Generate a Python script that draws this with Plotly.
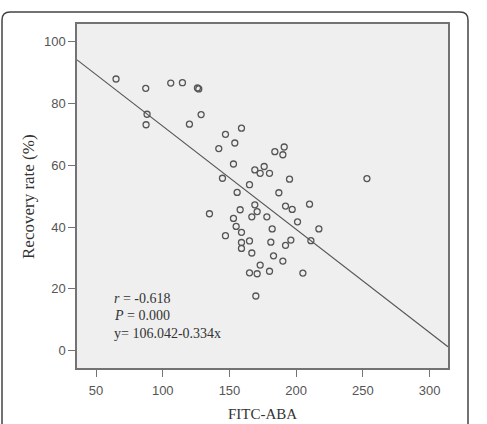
import plotly.graph_objects as go

# FITC-ABA values and recovery rates
fitc_aba = [65, 87.25, 88.25, 87.5, 106, 114.75, 126, 127, 120, 128.75,
            159, 147, 154, 142, 153, 144.75, 155.75, 135, 147, 153,
            155, 159, 158, 159, 159, 165, 166.75, 165, 170.75, 169.75,
            173, 180, 183, 181, 182, 178, 166.75, 170.75, 169, 165,
            169, 173, 176, 180, 184, 191, 190, 195, 187, 192,
            197, 201, 196, 192, 190, 205, 210, 211, 217, 253]
recovery = [87.9, 84.9, 76.5, 73.1, 86.6, 86.7, 85.0, 84.7, 73.3, 76.4,
            72.0, 70.0, 67.2, 65.4, 60.4, 55.8, 51.2, 44.3, 37.2, 42.8,
            40.2, 38.3, 45.6, 35.0, 33.1, 35.5, 31.6, 25.2, 24.9, 17.7,
            27.7, 25.7, 30.7, 35.1, 39.4, 43.3, 43.3, 45.0, 47.2, 53.7,
            58.5, 57.4, 59.6, 57.4, 64.4, 65.9, 63.4, 55.5, 51.1, 46.8,
            45.7, 41.7, 35.8, 34.1, 29.0, 25.1, 47.4, 35.6, 39.4, 55.7]

intercept = 106.042
slope = -0.334
x_range = [35.75, 313.75]
y_range = [-5.6, 105.7]
x_ticks = [50, 100, 150, 200, 250, 300]
y_ticks = [0, 20, 40, 60, 80, 100]
x_title = "FITC-ABA"
y_title = "Recovery rate (%)"
stat_lines = ["<i>r</i> = -0.618", "<i>P</i> = 0.000", "y= 106.042-0.334x"]
stat_y = [17.0, 11.3, 5.6]

fit_x = x_range
fit_y = [intercept + slope * v for v in fit_x]

fig = go.Figure()
fig.add_trace(go.Scatter(x=fit_x, y=fit_y, mode="lines",
                         line=dict(color="#555555", width=1.2),
                         hoverinfo="skip", showlegend=False))
fig.add_trace(go.Scatter(x=fitc_aba, y=recovery, mode="markers",
                         marker=dict(symbol="circle-open", size=6,
                                     color="#555555", line=dict(width=1.3)),
                         showlegend=False))

for txt, yy in zip(stat_lines, stat_y):
    fig.add_annotation(x=62, y=yy, xref="x", yref="y", text=txt,
                       showarrow=False, xanchor="left", yanchor="middle",
                       font=dict(family="Liberation Serif", size=14, color="#333333"))

L, R, T, B = 77, 39, 24, 56
W, H = 487, 424
pw, ph = W - L - R, H - T - B

def px_x(p):
    return (p - L) / pw

def px_y(p):
    return (H - B - p) / ph

# axis titles as annotations for exact placement
fig.add_annotation(x=0.5, y=px_y(414), xref="paper", yref="paper", text=x_title,
                   showarrow=False, xanchor="center", yanchor="middle",
                   font=dict(family="Liberation Serif", size=15, color="#333333"))
fig.add_annotation(x=px_x(28), y=px_y(197), xref="paper", yref="paper", text=y_title,
                   showarrow=False, xanchor="center", yanchor="middle", textangle=-90,
                   font=dict(family="Liberation Serif", size=17, color="#333333"))

bl, br, bt, bb = px_x(2), px_x(468), px_y(12), px_y(440)
rx, ry = 8 / pw, 8 / ph
path = (f"M {bl},{bb} L {bl},{bt - ry} Q {bl},{bt} {bl + rx},{bt} "
        f"L {br - rx},{bt} Q {br},{bt} {br},{bt - ry} L {br},{bb}")
fig.add_shape(type="path", path=path, xref="paper", yref="paper",
              line=dict(color="#444444", width=1.5), layer="below")

axis_common = dict(showgrid=False, zeroline=False, showline=True, mirror=True,
                   linecolor="#737373", linewidth=1.5, ticks="outside",
                   ticklen=7, tickcolor="#737373", tickwidth=1.2, automargin=False,
                   tickfont=dict(family="Liberation Sans", size=13, color="#555555"))

fig.update_xaxes(range=x_range, tickvals=x_ticks, ticklabelstandoff=3, **axis_common)
fig.update_yaxes(range=y_range, tickvals=y_ticks, **axis_common)

fig.update_layout(width=W, height=H, margin=dict(l=L, r=R, t=T, b=B),
                  plot_bgcolor="#efefef", paper_bgcolor="white")

fig.write_html("out.html")
